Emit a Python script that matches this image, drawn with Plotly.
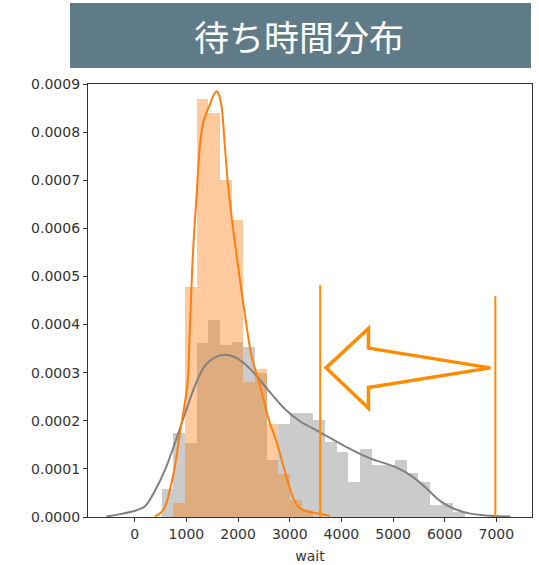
import plotly.graph_objects as go

# ---------------- data ----------------
bin_start = 518
bin_width = 226
gray_density = [0.000059, 0.000174, 0.000154, 0.000362, 0.000409, 0.000357, 0.000363,
                0.000353, 0.000300, 0.000118, 0.000194, 0.000217, 0.000217, 0.000201,
                0.000156, 0.000135, 0.000073, 0.000141, 0.000108, 0.000108, 0.000118,
                0.000092, 0.000073, 0.000024, 0.000030, 0.000010]
orange_density = [0.0, 0.000030, 0.000479, 0.000869, 0.000840, 0.000701, 0.000618,
                  0.000281, 0.000307, 0.000194, 0.000090, 0.000035, 0.000014]

gray_kde_x = [-549, -227, 33, 194, 388, 582, 776, 970, 1163, 1357, 1551, 1745, 1939,
              2133, 2327, 2521, 2715, 2909, 3199, 3587, 4072, 4557, 5041, 5332, 5623,
              5914, 6205, 6496, 6884, 7272]
gray_kde_y = [0.000001, 0.000007, 0.000014, 0.000022, 0.000054, 0.000097, 0.000153,
              0.000214, 0.000272, 0.000314, 0.000332, 0.000337, 0.000332, 0.000318,
              0.000297, 0.000272, 0.000247, 0.000224, 0.000199, 0.000176, 0.000147,
              0.000122, 0.000104, 0.000087, 0.000062, 0.000033, 0.000016, 0.000007,
              0.0000025, 0.000001]

orange_kde_x = [388, 485, 582, 679, 776, 873, 970, 1028, 1066, 1130, 1196, 1260, 1324,
                1396, 1454, 1532, 1584, 1629, 1681, 1745, 1809, 1906, 2036, 2133, 2263,
                2391, 2521, 2618, 2715, 2812, 2941, 3070, 3167, 3296, 3457, 3781]
orange_kde_y = [0.0000015, 0.000007, 0.000020, 0.000056, 0.000104, 0.000174, 0.000237,
                0.000285, 0.000389, 0.000555, 0.000666, 0.000770, 0.000820, 0.000842,
                0.000857, 0.000878, 0.000885, 0.000878, 0.000853, 0.000770, 0.000686,
                0.000597, 0.000493, 0.000420, 0.000333, 0.000285, 0.000233, 0.000194,
                0.000166, 0.000132, 0.000081, 0.000039, 0.000021, 0.000013, 0.0000087,
                0.0000025]

marker_lines_x = [3590, 6980]
marker_lines_top = [0.000482, 0.000459]

arrow_x = [3703, 4524, 4524, 6884, 4524, 4524]
arrow_y = [0.000310, 0.000392, 0.000351, 0.000310, 0.000269, 0.000226]

x_ticks = [0, 1000, 2000, 3000, 4000, 5000, 6000, 7000]
y_ticks = [0.0, 0.0001, 0.0002, 0.0003, 0.0004, 0.0005, 0.0006, 0.0007, 0.0008, 0.0009]
title_text = "待ち時間分布"
x_label = "wait"

# ---------------- figure ----------------
gray_centers = [bin_start + bin_width * (i + 0.5) for i in range(len(gray_density))]
orange_centers = [bin_start + bin_width * (i + 0.5) for i in range(len(orange_density))]

fig = go.Figure()
fig.add_trace(go.Bar(x=gray_centers, y=gray_density, width=bin_width,
                     marker=dict(color="#808080", line=dict(width=0)), opacity=0.4,
                     showlegend=False, hoverinfo="skip"))
fig.add_trace(go.Scatter(x=gray_kde_x, y=gray_kde_y, mode="lines", line_shape="spline",
                         line=dict(color="#808080", width=2), showlegend=False))
fig.add_trace(go.Bar(x=orange_centers, y=orange_density, width=bin_width,
                     marker=dict(color="#ff7f0e", line=dict(width=0)), opacity=0.4,
                     showlegend=False, hoverinfo="skip"))
fig.add_trace(go.Scatter(x=orange_kde_x, y=orange_kde_y, mode="lines", line_shape="spline",
                         line=dict(color="#ff7f0e", width=2), showlegend=False))

shapes = []
for xv, top in zip(marker_lines_x, marker_lines_top):
    shapes.append(dict(type="line", xref="x", yref="y", x0=xv, x1=xv, y0=0, y1=top,
                       line=dict(color="#ff8c00", width=2)))
path = "M " + " L ".join(f"{a},{b}" for a, b in zip(arrow_x, arrow_y)) + " Z"
shapes.append(dict(type="path", xref="x", yref="y", path=path,
                   line=dict(color="#ff8c00", width=3.5), fillcolor="rgba(0,0,0,0)"))
# title banner
shapes.append(dict(type="rect", xref="paper", yref="paper", x0=-0.0405, x1=0.9977,
                   y0=1.037, y1=1.187, fillcolor="#5f7b87", line=dict(width=0), layer="above"))
fig.update_layout(shapes=shapes)

fig.add_annotation(text=title_text, xref="paper", yref="paper", x=0.475, y=1.112,
                   xanchor="center", yanchor="middle", showarrow=False,
                   font=dict(family="Noto Sans CJK JP", size=35, color="white"))

axis_common = dict(showline=True, mirror=True, linecolor="#333333", linewidth=1.2,
                   ticks="outside", ticklen=4, tickcolor="#333333", showgrid=False,
                   zeroline=False, automargin=False,
                   tickfont=dict(family="DejaVu Sans", size=14, color="#333333"))
fig.update_xaxes(range=[-905, 7690], tickvals=x_ticks, ticktext=[str(v) for v in x_ticks],
                 title=dict(text=x_label, font=dict(family="DejaVu Sans", size=14, color="#333333"),
                            standoff=10),
                 **axis_common)
fig.update_yaxes(range=[0, 0.0009], tickvals=y_ticks, ticktext=[f"{v:.4f}" for v in y_ticks],
                 **axis_common)
fig.update_layout(width=539, height=565, barmode="overlay", bargap=0,
                  margin=dict(l=88, r=7, t=84, b=48, autoexpand=False),
                  plot_bgcolor="white", paper_bgcolor="white")

fig.write_html("out.html", config={"displayModeBar": False},
               post_script="document.body.style.margin='0';document.body.style.overflow='hidden';")
